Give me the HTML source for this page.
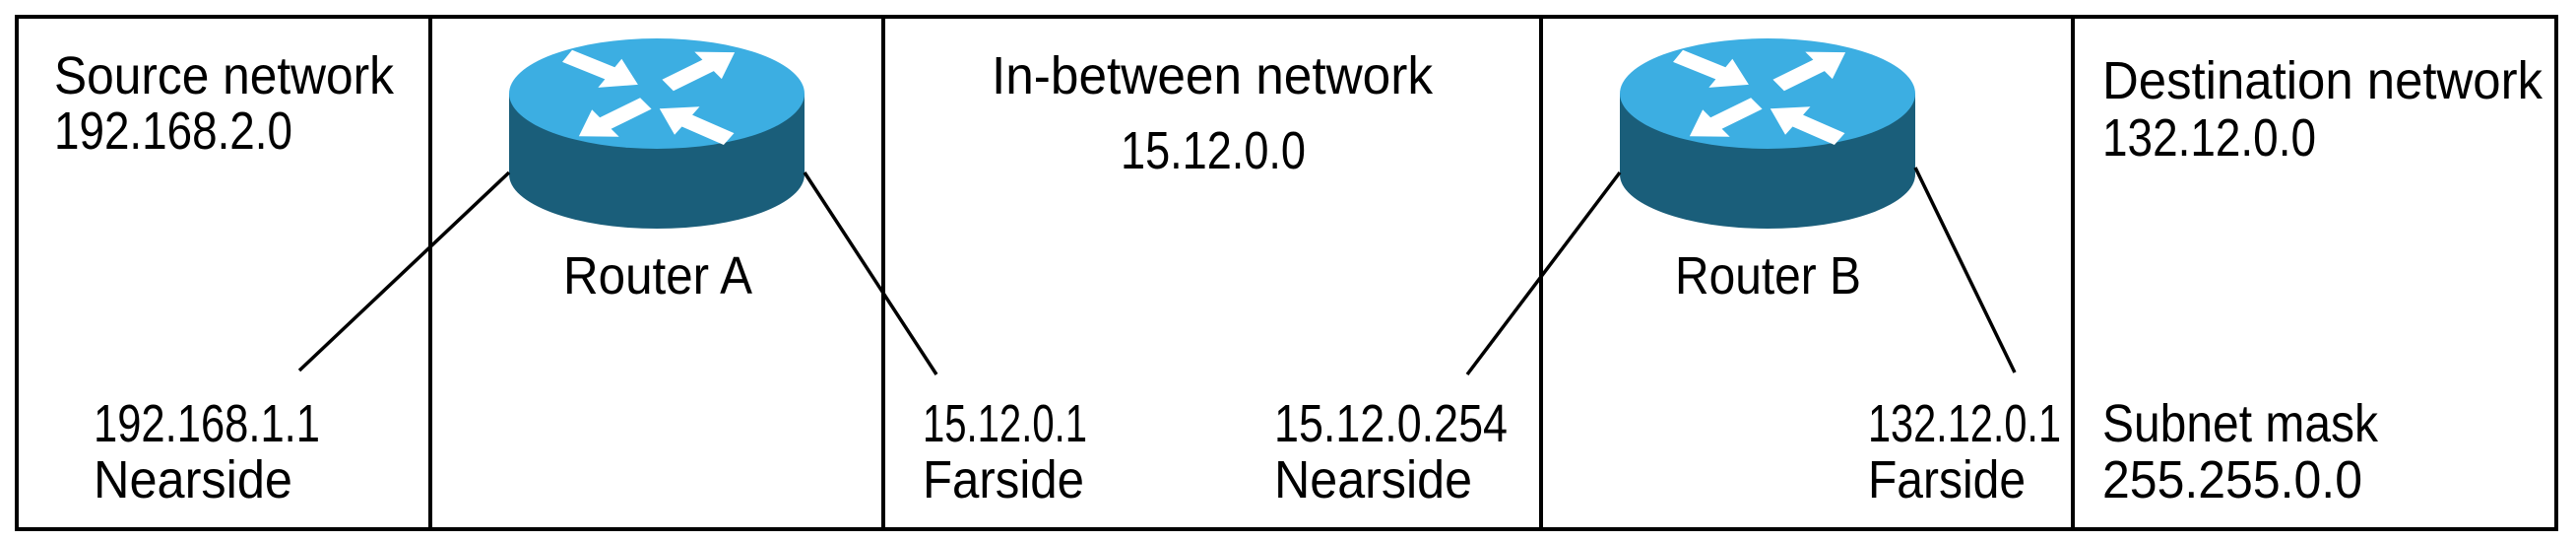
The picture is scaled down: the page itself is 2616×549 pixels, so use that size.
<!DOCTYPE html>
<html><head><meta charset="utf-8"><style>
html,body{margin:0;padding:0;background:#fff;}
svg{display:block;}
text{font-family:"Liberation Sans",sans-serif;font-size:54px;fill:#000;}
</style></head><body>
<svg width="2616" height="549" viewBox="0 0 2616 549" xmlns="http://www.w3.org/2000/svg">
<defs>
<g id="router">
  <path d="M-150,0 L-150,82 A150,55 0 0 0 150,82 L150,0 Z" fill="#1a5e7a"/>
  <ellipse cx="0" cy="0" rx="150" ry="56" fill="#3caee2"/>
  <g fill="#fff" transform="scale(1,0.7)">
    <polygon points="-45,-10 5,-10 5,-24 38,0 5,24 5,10 -45,10" transform="translate(-52,-32) rotate(30)"/>
    <polygon points="-45,-10 5,-10 5,-24 38,0 5,24 5,10 -45,10" transform="translate(48,-38) rotate(-35)"/>
    <polygon points="-45,-10 5,-10 5,-24 38,0 5,24 5,10 -45,10" transform="translate(-48,40) rotate(145)"/>
    <polygon points="-45,-10 5,-10 5,-24 38,0 5,24 5,10 -45,10" transform="translate(35,42) rotate(-148)"/>
  </g>
</g>
</defs>
<rect x="17" y="17" width="2579" height="520" fill="none" stroke="#000" stroke-width="4"/>
<line x1="437" y1="17" x2="437" y2="537" stroke="#000" stroke-width="4"/>
<line x1="897" y1="17" x2="897" y2="537" stroke="#000" stroke-width="4"/>
<line x1="1565" y1="17" x2="1565" y2="537" stroke="#000" stroke-width="4"/>
<line x1="2105" y1="17" x2="2105" y2="537" stroke="#000" stroke-width="4"/>

<use href="#router" x="667" y="95"/>
<use href="#router" x="1795" y="95"/>

<g stroke="#000" stroke-width="3.5">
<line x1="517" y1="175" x2="304" y2="376"/>
<line x1="817" y1="175" x2="951" y2="380"/>
<line x1="1645" y1="175" x2="1490" y2="380"/>
<line x1="1945" y1="170" x2="2046" y2="378"/>
</g>

<text x="55" y="95" textLength="345" lengthAdjust="spacingAndGlyphs">Source network</text>
<text x="55" y="151" textLength="242" lengthAdjust="spacingAndGlyphs">192.168.2.0</text>
<text x="572" y="298" textLength="192" lengthAdjust="spacingAndGlyphs">Router A</text>
<text x="95" y="448" textLength="230" lengthAdjust="spacingAndGlyphs">192.168.1.1</text>
<text x="95" y="505" textLength="202" lengthAdjust="spacingAndGlyphs">Nearside</text>
<text x="1007" y="95" textLength="448" lengthAdjust="spacingAndGlyphs">In-between network</text>
<text x="1138" y="171" textLength="188" lengthAdjust="spacingAndGlyphs">15.12.0.0</text>
<text x="937" y="448" textLength="167" lengthAdjust="spacingAndGlyphs">15.12.0.1</text>
<text x="937" y="505" textLength="164" lengthAdjust="spacingAndGlyphs">Farside</text>
<text x="1294" y="448" textLength="237" lengthAdjust="spacingAndGlyphs">15.12.0.254</text>
<text x="1294" y="505" textLength="201" lengthAdjust="spacingAndGlyphs">Nearside</text>
<text x="1701" y="298" textLength="189" lengthAdjust="spacingAndGlyphs">Router B</text>
<text x="1897" y="448" textLength="196" lengthAdjust="spacingAndGlyphs">132.12.0.1</text>
<text x="1897" y="505" textLength="160" lengthAdjust="spacingAndGlyphs">Farside</text>
<text x="2135" y="100" textLength="447" lengthAdjust="spacingAndGlyphs">Destination network</text>
<text x="2135" y="158" textLength="217" lengthAdjust="spacingAndGlyphs">132.12.0.0</text>
<text x="2135" y="448" textLength="280" lengthAdjust="spacingAndGlyphs">Subnet mask</text>
<text x="2135" y="505" textLength="264" lengthAdjust="spacingAndGlyphs">255.255.0.0</text>
</svg>
</body></html>
